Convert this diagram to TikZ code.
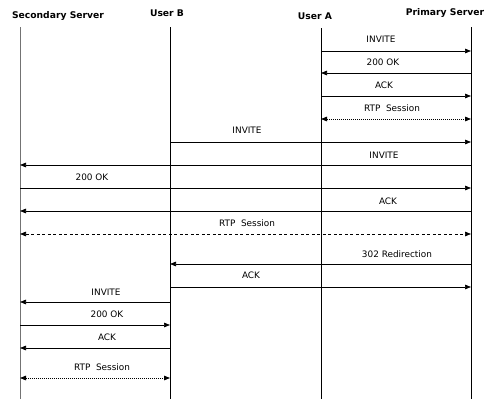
\documentclass[tikz,border=0pt]{standalone}
\usepackage{fontspec}
\setmainfont{DejaVu Sans}
\usetikzlibrary{arrows.meta}
\begin{document}
\begin{tikzpicture}[x=1pt,y=-1pt,
  lifeline/.style={line width=0.9pt,black},
  lifelinegray/.style={line width=0.9pt,black!55},
  head/.style={font=\fontsize{9.2}{11}\selectfont\bfseries,inner sep=0pt},
  lbl/.style={font=\fontsize{8.9}{10}\selectfont,inner sep=0pt},
  msg/.style={line width=0.7pt,-{Triangle[length=6pt,width=4.6pt]}},
  rtpdot/.style={line width=0.8pt,dash pattern=on 1pt off 1pt,{Triangle[length=6pt,width=4.6pt]}-{Triangle[length=6pt,width=4.6pt]}},
  rtpdash/.style={line width=0.7pt,dash pattern=on 3pt off 2.5pt,{Triangle[length=6pt,width=4.6pt]}-{Triangle[length=6pt,width=4.6pt]}}
]
\useasboundingbox (0,0) rectangle (493,399);
% headers
\node[head] (hS) at (58,16) {Secondary Server};
\node[head] (hB) at (167,13) {User B};
\node[head] (hA) at (315,16) {User A};
\node[head] (hP) at (445,13) {Primary Server};
% lifeline ends
\coordinate (S0) at (20,27); \coordinate (S1) at (20,399);
\coordinate (B0) at (170,27); \coordinate (B1) at (170,399);
\coordinate (A0) at (321,28); \coordinate (A1) at (321,399);
\coordinate (P0) at (471,27); \coordinate (P1) at (471,399);
\draw[lifelinegray] (S0) -- (S1);
\draw[lifeline] (B0) -- (B1);
\draw[lifeline] (A0) -- (A1);
\draw[lifeline] (P0) -- (P1);
% message rows
\coordinate (m1) at (0,51);
\coordinate (m2) at (0,73);
\coordinate (m3) at (0,96);
\coordinate (m4) at (0,119);
\coordinate (m5) at (0,142);
\coordinate (m6) at (0,165);
\coordinate (m7) at (0,188);
\coordinate (m8) at (0,211);
\coordinate (m9) at (0,234);
\coordinate (m10) at (0,264);
\coordinate (m11) at (0,287);
\coordinate (m12) at (0,302);
\coordinate (m13) at (0,325);
\coordinate (m14) at (0,348);
\coordinate (m15) at (0,378);
% messages
\draw[msg] (A0|-m1) -- (P0|-m1);
\draw[msg] (P0|-m2) -- (A0|-m2);
\draw[msg] (A0|-m3) -- (P0|-m3);
\draw[rtpdot] (A0|-m4) -- (P0|-m4);
\draw[msg] (B0|-m5) -- (P0|-m5);
\draw[msg] (P0|-m6) -- (S0|-m6);
\draw[msg] (S0|-m7) -- (P0|-m7);
\draw[msg] (P0|-m8) -- (S0|-m8);
\draw[rtpdash] (S0|-m9) -- (P0|-m9);
\draw[msg] (P0|-m10) -- (B0|-m10);
\draw[msg] (B0|-m11) -- (P0|-m11);
\draw[msg] (B0|-m12) -- (S0|-m12);
\draw[msg] (S0|-m13) -- (B0|-m13);
\draw[msg] (B0|-m14) -- (S0|-m14);
\draw[rtpdot] (S0|-m15) -- (B0|-m15);
% labels
\node[lbl] (l1) at (381,39) {INVITE};
\node[lbl] (l2) at (383,62) {200 OK};
\node[lbl] (l3) at (384,85) {ACK};
\node[lbl] (l4) at (392,108) {RTP\ \ Session};
\node[lbl] (l5) at (247,130) {INVITE};
\node[lbl] (l6) at (384,155) {INVITE};
\node[lbl] (l7) at (92,177) {200 OK};
\node[lbl] (l8) at (388,201) {ACK};
\node[lbl] (l9) at (247,223) {RTP\ \ Session};
\node[lbl] (l10) at (397,254) {302 Redirection};
\node[lbl] (l11) at (251,275) {ACK};
\node[lbl] (l12) at (106,292) {INVITE};
\node[lbl] (l13) at (107,314) {200 OK};
\node[lbl] (l14) at (107,337) {ACK};
\node[lbl] (l15) at (102,367) {RTP\ \ Session};
\end{tikzpicture}
\end{document}
